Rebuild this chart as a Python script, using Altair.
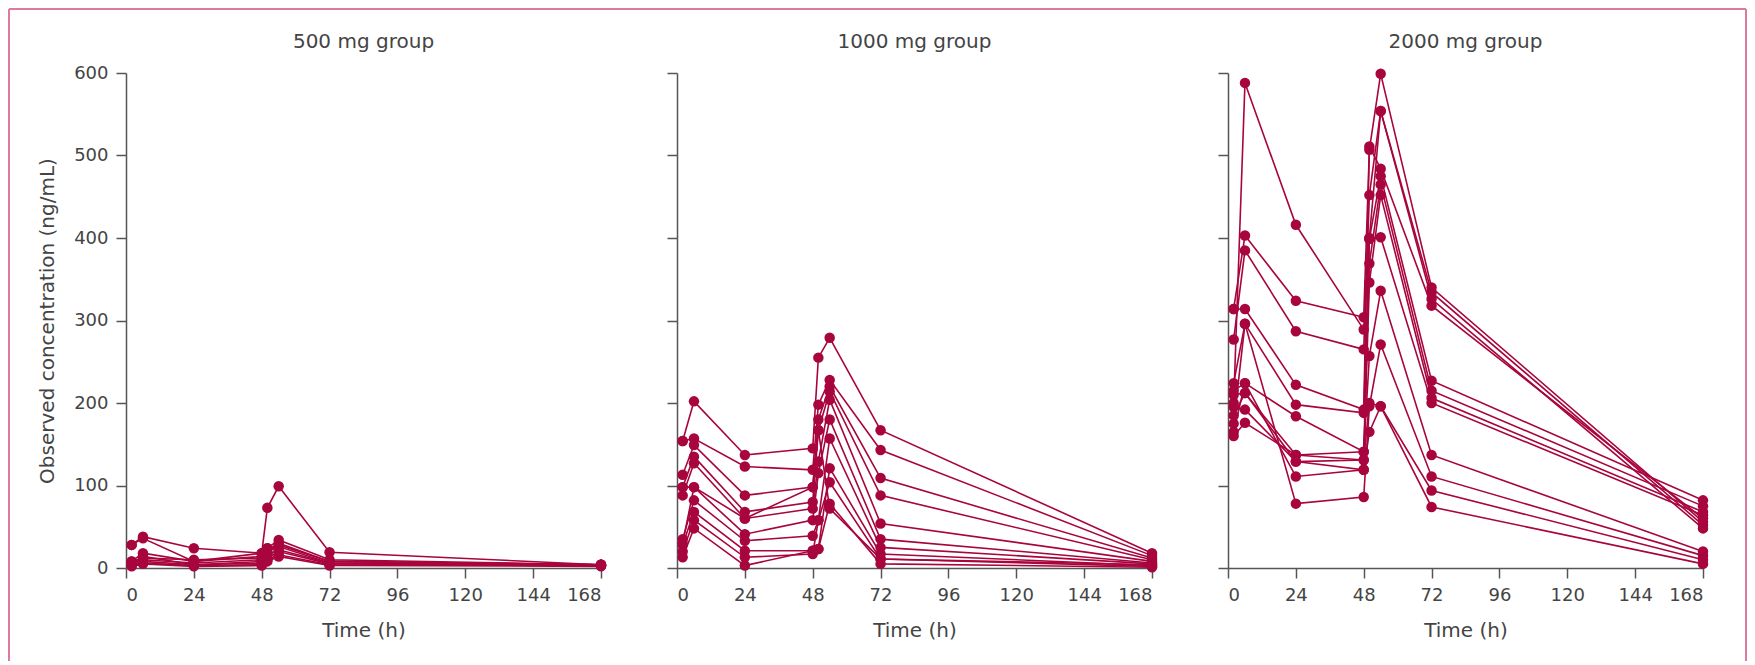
import altair as alt
import pandas as pd

# Sampling times (h)
times = [2, 6, 24, 48, 50, 54, 72, 168]

# Individual subject concentrations (ng/mL), one list per subject
group_500 = [
    [28, 38, 24, 18, 73, 99, 19, 4],
    [28, 36, 8, 14, 24, 34, 10, 4],
    [8, 18, 8, 18, 24, 28, 8, 4],
    [5, 14, 4, 8, 16, 22, 6, 3],
    [6, 10, 6, 10, 18, 30, 8, 4],
    [4, 8, 4, 6, 12, 20, 5, 3],
    [3, 6, 3, 4, 10, 16, 4, 3],
    [8, 12, 10, 12, 20, 26, 6, 4],
    [2, 5, 2, 3, 8, 14, 3, 2],
]
group_1000 = [
    [154, 202, 137, 145, 255, 279, 167, 18],
    [154, 157, 123, 119, 198, 228, 143, 15],
    [113, 149, 88, 98, 180, 220, 109, 12],
    [98, 135, 68, 80, 167, 214, 88, 10],
    [88, 127, 60, 72, 129, 204, 54, 8],
    [98, 98, 41, 58, 115, 180, 35, 6],
    [35, 82, 33, 39, 58, 157, 25, 5],
    [28, 68, 21, 21, 23, 121, 17, 3],
    [20, 58, 13, 17, 58, 104, 11, 2],
    [13, 48, 3, 21, 23, 78, 5, 1],
    [30, 98, 60, 98, 167, 72, 11, 4],
]
group_2000 = [
    [200, 588, 416, 289, 400, 554, 334, 52],
    [314, 403, 324, 304, 507, 599, 340, 56],
    [277, 385, 287, 265, 452, 554, 326, 48],
    [314, 314, 222, 192, 511, 484, 318, 60],
    [224, 296, 198, 188, 399, 475, 227, 82],
    [215, 224, 184, 141, 369, 465, 215, 75],
    [210, 212, 137, 131, 346, 452, 206, 68],
    [195, 192, 129, 119, 399, 401, 200, 64],
    [175, 296, 78, 86, 196, 271, 111, 15],
    [165, 224, 111, 119, 165, 196, 74, 5],
    [160, 176, 137, 141, 257, 336, 137, 20],
    [185, 212, 129, 131, 200, 196, 94, 10],
]

group_titles = ["500 mg group", "1000 mg group", "2000 mg group"]
groups = [group_500, group_1000, group_2000]

x_ticks = [0, 24, 48, 72, 96, 120, 144, 168]
y_ticks = [0, 100, 200, 300, 400, 500, 600]

RED = "#a8053e"
TEXT = "#444444"
FONT = "DejaVu Sans"
PANEL_W = 475
PANEL_H = 495


def frame(subjects):
    rows = []
    for s, vals in enumerate(subjects):
        for t, v in zip(times, vals):
            rows.append({"subject": s, "time": t, "conc": v})
    return pd.DataFrame(rows)


def panel(idx):
    df = frame(groups[idx])
    first = idx == 0
    x = alt.X(
        "time:Q",
        scale=alt.Scale(domain=[0, 168], nice=False),
        axis=alt.Axis(values=x_ticks, title="Time (h)", titlePadding=16),
    )
    if first:
        yaxis = alt.Axis(values=y_ticks, title="Observed concentration (ng/mL)", titlePadding=16)
    else:
        yaxis = alt.Axis(values=y_ticks, labels=False, title=None)
    y = alt.Y("conc:Q", scale=alt.Scale(domain=[0, 600], nice=False), axis=yaxis)
    base = alt.Chart(df)
    lines = base.mark_line(color=RED, strokeWidth=1.6).encode(x=x, y=y, detail="subject:N")
    pts = base.mark_point(filled=True, color=RED, opacity=1, size=110).encode(
        x=x, y=y, detail="subject:N"
    )
    one = pd.DataFrame({"label": [group_titles[idx]]})
    title = alt.Chart(one).mark_text(
        font=FONT, fontSize=20, color=TEXT, align="center", baseline="middle"
    ).encode(text="label:N", x=alt.value(PANEL_W / 2), y=alt.value(-31))
    layers = [lines, pts, title]
    if first:
        border = pd.DataFrame({"k": [0]})
        bc = "#dc7aa0"
        left = alt.Chart(border).mark_rule(color=bc, strokeWidth=2).encode(
            x=alt.value(-117), y=alt.value(-64), y2=alt.value(588)
        )
        top = alt.Chart(border).mark_rule(color=bc, strokeWidth=2).encode(
            x=alt.value(-117), x2=alt.value(1620), y=alt.value(-64)
        )
        right = alt.Chart(border).mark_rule(color=bc, strokeWidth=2).encode(
            x=alt.value(1620), y=alt.value(-64), y2=alt.value(588)
        )
        layers = [left, top, right] + layers
    return alt.layer(*layers).properties(width=PANEL_W, height=PANEL_H)


chart = (
    alt.hconcat(panel(0), panel(1), panel(2), spacing=76, bounds="flush")
    .properties(padding=0)
    .configure_view(stroke=None)
    .configure_axis(
        grid=False,
        domainColor="#555555",
        tickColor="#555555",
        domainWidth=1.5,
        tickWidth=1.5,
        tickSize=10,
        labelPadding=8,
        labelFont=FONT,
        labelFontSize=18,
        labelColor=TEXT,
        titleFont=FONT,
        titleFontSize=20,
        titleFontWeight="normal",
        titleColor=TEXT,
    )
)

chart.save("out.html", embed_options={"renderer": "svg", "actions": False})
